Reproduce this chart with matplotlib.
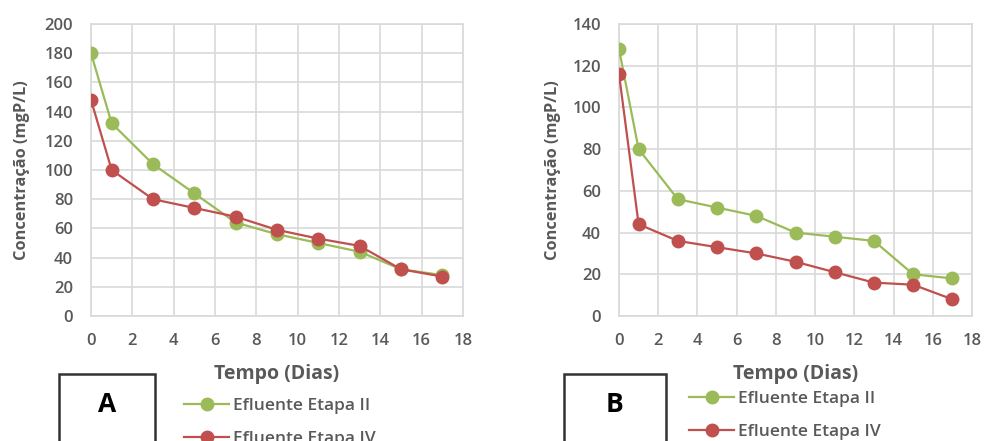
import matplotlib.pyplot as plt
from matplotlib.patches import Rectangle

plt.rcParams['font.family'] = ['Open Sans', 'DejaVu Sans']

# dias de coleta
dias = [0, 1, 3, 5, 7, 9, 11, 13, 15, 17]

# painel A
a_etapa2 = [180, 132, 104, 84, 64, 56, 50, 44, 32, 28]
a_etapa4 = [148, 100, 80, 74, 68, 59, 53, 48, 32, 27]

# painel B
b_etapa2 = [128, 80, 56, 52, 48, 40, 38, 36, 20, 18]
b_etapa4 = [116, 44, 36, 33, 30, 26, 21, 16, 15, 8]

series_names = ['Efluente Etapa II', 'Efluente Etapa IV']
verde = '#9BBB59'
vermelho = '#C0504D'
cinza = '#595959'

W, H = 984, 441
fig = plt.figure(figsize=(W / 100, H / 100), dpi=100)


def px_axes(left, top, right, bottom):
    return fig.add_axes([left / W, 1 - bottom / H, (right - left) / W, (bottom - top) / H])


def painel(ax, y2, y4, ymax, letra, box, leg_xy, ylab_x):
    ax.plot(dias, y2, color=verde, lw=1.6, marker='o', ms=9, label=series_names[0], zorder=3)
    ax.plot(dias, y4, color=vermelho, lw=1.6, marker='o', ms=9, label=series_names[1], zorder=4)
    ax.set_xlim(0, 18)
    ax.set_ylim(0, ymax)
    ax.set_xticks(range(0, 19, 2))
    ax.set_yticks(range(0, ymax + 1, 20))
    ax.grid(True, color='#D9D9D9', lw=1.2)
    ax.set_axisbelow(True)
    for s in ax.spines.values():
        s.set_color('#D9D9D9')
        s.set_linewidth(1.2)
    ax.tick_params(length=0, labelsize=12, labelcolor=cinza)
    ax.tick_params(axis='x', pad=12)
    ax.tick_params(axis='y', pad=13)
    for t in ax.get_xticklabels() + ax.get_yticklabels():
        t.set_fontweight('semibold')
    ax.set_xlabel('Tempo (Dias)', fontsize=14, fontweight='bold', color=cinza, labelpad=11)
    ax.set_ylabel('Concentração (mgP/L)', fontsize=11.8, fontweight='bold', color=cinza)
    ax.yaxis.set_label_coords(ylab_x, 0.5)

    x0, x1, top = box
    fig.patches.append(Rectangle((x0 / W, -0.2), (x1 - x0) / W, 0.2 + 1 - top / H,
                                 transform=fig.transFigure, fill=False,
                                 edgecolor='#333333', lw=1.8))
    fig.text((x0 + x1) / 2 / W, 1 - 405 / H, letra, fontsize=19, fontweight='bold',
             ha='center', va='center', color='black')

    leg = ax.legend(loc='upper left', bbox_to_anchor=(leg_xy[0] / W, 1 - leg_xy[1] / H),
                    bbox_transform=fig.transFigure, frameon=False, fontsize=12.5,
                    handlelength=2.6, handletextpad=0.2, labelspacing=0.95,
                    borderpad=0, borderaxespad=0)
    for t in leg.get_texts():
        t.set_color(cinza)
        t.set_fontweight('semibold')


axA = px_axes(91, 24, 463, 316)
painel(axA, a_etapa2, a_etapa4, 200, 'A', (59, 155, 374), (184, 398), -0.165)

axB = px_axes(619, 24, 972, 316)
painel(axB, b_etapa2, b_etapa4, 140, 'B', (564, 666, 374), (689, 391), -0.163)

fig.savefig('out.png', dpi=100)
